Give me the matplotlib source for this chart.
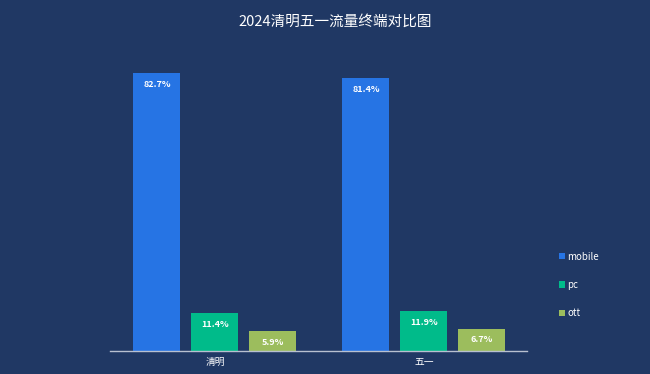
import matplotlib
matplotlib.use("Agg")
import matplotlib.pyplot as plt
import numpy as np

plt.rcParams['font.family'] = ['Noto Sans CJK SC', 'DejaVu Sans']

categories = ["清明", "五一"]
series_names = ["mobile", "pc", "ott"]
mobile = [82.7, 81.4]
pc = [11.4, 11.9]
ott = [5.9, 6.7]
values = [mobile, pc, ott]
colors = ["#2674e4", "#00bb8a", "#9cbd5d"]
bg = "#203864"

W, H = 650, 374
fig = plt.figure(figsize=(W/100, H/100), dpi=100, facecolor=bg)
ax = fig.add_axes([110/W, (H-351)/H, (527-110)/W, 302/H], facecolor=bg)

x = np.arange(len(categories))
pitch = 0.2775
width = 0.225
handles = []
for i, (name, vals, c) in enumerate(zip(series_names, values, colors)):
    pos = x + (i - 1) * pitch
    b = ax.bar(pos, vals, width, color=c, label=name)
    handles.append(b)
    for p, v in zip(pos, vals):
        ax.annotate(f"{v}%", (p, v), xytext=(0, -5), textcoords="offset points",
                    ha="center", va="top", color="white", fontsize=6.5, fontweight="bold")

ax.set_xlim(-0.502, 1.493)
ax.set_ylim(0, 90)
ax.set_yticks([])
ax.set_xticks(x)
ax.set_xticklabels(categories, color="white", fontsize=7)
ax.tick_params(axis="x", length=0, pad=4)
for s in ["top", "right", "left"]:
    ax.spines[s].set_visible(False)
ax.spines["bottom"].set_color("#b8c0d0")
ax.spines["bottom"].set_linewidth(1)

fig.text(335/W, 1 - 22/H, "2024清明五一流量终端对比图", ha="center", va="center",
         color="white", fontsize=10.5)

leg = fig.legend(handles=handles, labels=series_names, loc="center left",
                 bbox_to_anchor=(550/W, 1 - 285/H), frameon=False,
                 labelcolor="white", fontsize=7, handlelength=0.6, handleheight=0.6,
                 handletextpad=0.3, labelspacing=1.9)

fig.savefig("out.png", dpi=100, facecolor=bg)
